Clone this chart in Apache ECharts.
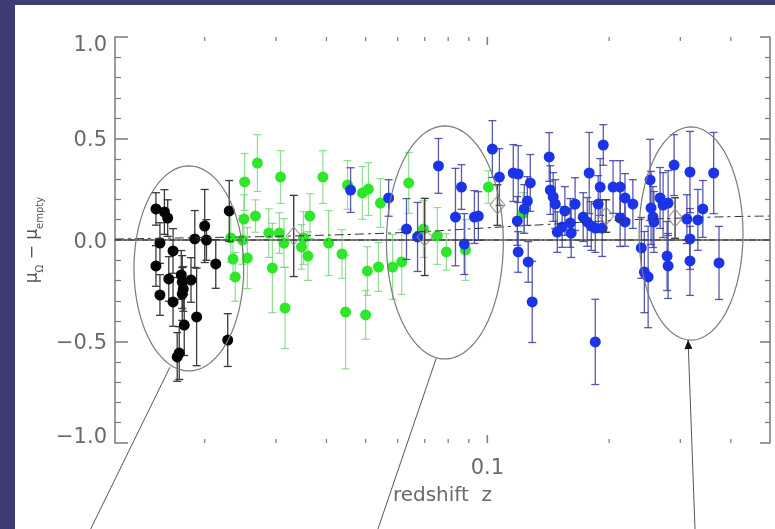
<!DOCTYPE html>
<html><head><meta charset="utf-8">
<script src="https://cdn.jsdelivr.net/npm/echarts@6/dist/echarts.min.js"></script>
<style>
html,body{margin:0;padding:0;background:#3b3d74;width:775px;height:529px;overflow:hidden}
#c{position:absolute;left:15px;top:5px;width:760px;height:524px;background:#fff}
</style></head><body><div id="c"></div>
<script>
// [redshift z, mu - mu_empty, error]
const blackData = [
[0.01515,0.153,0.08],[0.0159,0.138,0.11],[0.0162,0.108,0.09],[0.0155,-0.015,0.10],[0.0167,-0.054,0.11],
[0.0200,0.069,0.18],[0.0189,0.005,0.14],[0.0202,0.0,0.10],[0.0213,-0.118,0.12],[0.01515,-0.128,0.10],
[0.0163,-0.192,0.11],[0.0176,-0.207,0.13],[0.0185,-0.197,0.11],[0.0155,-0.271,0.10],[0.0167,-0.305,0.12],
[0.0177,-0.241,0.11],[0.0191,-0.379,0.24],[0.0178,-0.419,0.15],[0.0173,-0.557,0.13],[0.0171,-0.576,0.12],
[0.0228,-0.493,0.13],[0.0230,0.143,0.15],[0.0175,-0.172,0.12],[0.0176,-0.266,0.13]
];
const greenData = [
[0.0270,0.379,0.14],[0.0251,0.286,0.14],[0.0308,0.310,0.13],[0.0392,0.310,0.13],[0.0451,0.271,0.12],
[0.0267,0.118,0.08],[0.0250,0.103,0.12],[0.0364,0.118,0.11],[0.0232,0.010,0.12],[0.0248,0.0,0.12],
[0.0288,0.034,0.12],[0.0306,0.034,0.10],[0.0314,-0.015,0.12],[0.0351,0.010,0.13],[0.0347,-0.034,0.11],
[0.0360,-0.079,0.12],[0.0405,-0.015,0.16],[0.0437,-0.069,0.12],[0.0235,-0.094,0.10],[0.0255,-0.089,0.15],
[0.0238,-0.182,0.12],[0.0294,-0.138,0.22],[0.0316,-0.335,0.20],[0.0446,-0.355,0.28],[0.0491,0.232,0.13],
[0.0508,0.251,0.13],[0.0544,0.182,0.12],[0.0639,0.281,0.15],[0.0505,-0.153,0.12],[0.0538,-0.133,0.12],
[0.0583,-0.133,0.16],[0.0614,-0.108,0.16],[0.0500,-0.369,0.12],[0.0695,0.054,0.14],[0.0752,0.020,0.14],
[0.0792,-0.059,0.09],[0.0883,-0.049,0.15],[0.1006,0.261,0.08],[0.1227,0.133,0.10]
];
const blueData = [
[0.0459,0.246,0.11],[0.0570,0.207,0.09],[0.0757,0.365,0.135],[0.0863,0.261,0.11],[0.0631,0.054,0.15],
[0.0672,0.015,0.17],[0.0834,0.113,0.24],[0.0877,-0.020,0.15],[0.0929,0.113,0.13],[0.0950,0.118,0.12],
[0.1029,0.448,0.14],[0.1071,0.310,0.14],[0.1159,0.330,0.14],[0.1192,0.325,0.14],[0.1277,0.281,0.14],
[0.1256,0.192,0.12],[0.1234,0.153,0.12],[0.1186,0.094,0.12],[0.1192,-0.059,0.10],[0.1262,-0.108,0.10],
[0.1291,-0.305,0.20],[0.1422,0.409,0.12],[0.1431,0.246,0.12],[0.1455,0.212,0.12],[0.1472,0.177,0.12],
[0.1555,0.143,0.12],[0.1648,0.177,0.13],[0.1489,0.039,0.10],[0.1531,0.064,0.10],[0.1603,0.084,0.12],
[0.1612,0.034,0.12],[0.1726,0.113,0.12],[0.1786,0.330,0.20],[0.1935,0.468,0.10],[0.1901,0.261,0.14],
[0.1880,0.177,0.14],[0.1807,0.069,0.12],[0.1849,0.059,0.12],[0.1923,0.059,0.14],[0.1766,0.089,0.12],
[0.1849,-0.502,0.21],[0.2046,0.261,0.13],[0.2130,0.261,0.13],[0.2190,0.207,0.12],[0.2130,0.108,0.14],
[0.2190,0.089,0.12],[0.2290,0.177,0.12],[0.2403,-0.039,0.15],[0.2445,-0.158,0.20],[0.2498,-0.182,0.25],
[0.2526,0.296,0.20],[0.2540,0.158,0.18],[0.2568,0.113,0.15],[0.2582,0.089,0.15],[0.2674,0.207,0.15],
[0.2720,0.172,0.16],[0.2799,0.182,0.16],[0.2783,-0.079,0.17],[0.2799,-0.128,0.16],[0.2896,0.369,0.15],
[0.3170,0.335,0.20],[0.3115,0.103,0.12],[0.3170,0.005,0.15],[0.3170,-0.103,0.17],[0.3316,0.099,0.15],
[0.3411,0.153,0.14],[0.3628,0.330,0.20],[0.3740,-0.113,0.18]
];
// binned averages (hollow diamonds)
const binData = [[0.0332,0.020,0.20],[0.0700,0.015,0.19],[0.1059,0.172,0.10],[0.1967,0.118,0.08],[0.2912,0.108,0.10]];
// model curves
const modelZ = [0.012,0.02,0.03,0.05,0.07,0.1,0.15,0.2,0.3,0.4,0.5];
const modelLambdaY = [0.005,0.012,0.018,0.03,0.042,0.06,0.08,0.095,0.108,0.115,0.118];
const zeroZ = [0.012,0.5];
const zeroY = [0,0];
// ellipses: [zLeft, zRight, yTop, yBottom]
const ellipses = [[0.01337,0.02497,0.365,-0.645],[0.0563,0.1095,0.562,-0.586],[0.2373,0.4287,0.557,-0.493]];
// arrows: [zFrom, yFrom, zTo, yTo, head]
const arrows = [[0.01041,-1.43,0.01641,-0.626,0],[0.0535,-1.43,0.0748,-0.581,0],[0.3263,-1.43,0.3136,-0.4926,1]];
// x ticks: [z, major?]
const xTicks = [[0.02,0],[0.03,0],[0.04,0],[0.05,0],[0.06,0],[0.07,0],[0.08,0],[0.09,0],[0.1,1],[0.2,0],[0.3,0],[0.4,0]];
const xMin = 0.012, xMax = 0.5, yMin = -1, yMax = 1;

const FONT = 'DejaVu Sans';
const AX = '#7a7a7a';
const LBL = '#6a6a6a';

function errSeries(data, color, lw, z){
  return {type:'custom', coordinateSystem:'cartesian2d', z:z, clip:false, silent:true,
    encode:{x:0,y:1}, data:data,
    renderItem:function(p, api){
      const x=api.value(0), y=api.value(1), e=api.value(2);
      const t=api.coord([x,y+e]), b=api.coord([x,y-e]); const c=4;
      const st={stroke:color,lineWidth:lw};
      return {type:'group',children:[
        {type:'line',shape:{x1:t[0],y1:t[1],x2:b[0],y2:b[1]},style:st},
        {type:'line',shape:{x1:t[0]-c,y1:t[1],x2:t[0]+c,y2:t[1]},style:st},
        {type:'line',shape:{x1:b[0]-c,y1:b[1],x2:b[0]+c,y2:b[1]},style:st}
      ]};
    }};
}
function ptSeries(data, color, z){
  return {type:'scatter', z:z, silent:true, symbolSize:11, data:data.map(d=>[d[0],d[1]]),
    itemStyle:{color:color, opacity:1}};
}

const chart = echarts.init(document.getElementById('c'), null, {renderer:'canvas'});
chart.setOption({
  animation:false,
  backgroundColor:'#ffffff',
  grid:{left:100, top:32, width:655, height:406},
  xAxis:[
    {type:'log', logBase:10, min:xMin, max:xMax, position:'bottom',
     name:'redshift  z', nameLocation:'middle', nameGap:43,
     nameTextStyle:{fontFamily:FONT, fontSize:20, color:LBL},
     axisLine:{show:true, lineStyle:{color:AX, width:1.5}},
     axisTick:{show:false}, minorTick:{show:false}, splitLine:{show:false}, minorSplitLine:{show:false},
     axisLabel:{show:true, margin:15, fontFamily:FONT, fontSize:21, color:LBL,
       formatter:function(v){return Math.abs(v-0.1)<1e-6?'0.1':'';}}},
    {type:'log', logBase:10, min:xMin, max:xMax, position:'top',
     axisLine:{show:true, lineStyle:{color:AX, width:1.5}},
     axisTick:{show:false}, axisLabel:{show:false}, splitLine:{show:false}}
  ],
  yAxis:[
    {type:'value', min:yMin, max:yMax, interval:0.5, position:'left',
     name:'{m|μ}{s|Ω}{m| − μ}{s|empty}', nameLocation:'middle', nameGap:70, nameRotate:90,
     nameTextStyle:{color:'#555', fontFamily:FONT,
       rich:{m:{fontSize:17, fontFamily:FONT, color:'#555', lineHeight:24, verticalAlign:'middle'},
             s:{fontSize:10, fontFamily:FONT, color:'#555', lineHeight:24, verticalAlign:'bottom'}}},
     axisLine:{show:true, lineStyle:{color:AX, width:1.5}},
     axisTick:{show:true, inside:true, length:13, lineStyle:{color:AX, width:1.5}},
     minorTick:{show:true, splitNumber:5, length:6, lineStyle:{color:AX, width:1.2}},
     splitLine:{show:false},
     axisLabel:{margin:8, fontFamily:FONT, fontSize:21, color:LBL,
       rich:{hi:{fontFamily:FONT, fontSize:21, color:LBL, padding:[17,0,0,0]},
             lo:{fontFamily:FONT, fontSize:21, color:LBL, padding:[0,0,10,0]},
             md:{fontFamily:FONT, fontSize:21, color:LBL, padding:[5,0,0,0]}},
       formatter:function(v){
         const s=(v<0?'−':'')+Math.abs(v).toFixed(1);
         if(v>=0.999) return '{hi|'+s+'}';
         if(v<=-0.999) return '{lo|'+s+'}';
         return '{md|'+s+'}';
       }}},
    {type:'value', min:yMin, max:yMax, interval:0.5, position:'right',
     axisLine:{show:true, lineStyle:{color:AX, width:1.5}},
     axisTick:{show:true, inside:true, length:10, lineStyle:{color:AX, width:1.5}},
     minorTick:{show:true, splitNumber:5, length:5, lineStyle:{color:AX, width:1.2}},
     splitLine:{show:false}, axisLabel:{show:false}}
  ],
  series:[
    {type:'custom', z:10, silent:true, clip:false, encode:{x:0}, data:xTicks,
     renderItem:function(p, api){
       const z=api.value(0), big=api.value(1); const L=big?8:4;
       const b=api.coord([z,yMin]), t=api.coord([z,yMax]);
       const st={stroke:AX,lineWidth:big?1.5:1.2};
       return {type:'group',children:[
         {type:'line',shape:{x1:b[0],y1:b[1],x2:b[0],y2:b[1]-L},style:st},
         {type:'line',shape:{x1:t[0],y1:t[1],x2:t[0],y2:t[1]+L},style:st}]};
     }},
    errSeries(greenData, 'rgba(110,210,110,0.75)', 1.2, 3),
    ptSeries(greenData, '#2ee62a', 4),
    errSeries(blackData, '#3a3a3a', 1.3, 5),
    ptSeries(blackData, '#050505', 6),
    errSeries(blueData, 'rgba(60,60,160,0.85)', 1.3, 7),
    ptSeries(blueData, '#1c34e8', 8),
    errSeries(binData, '#404040', 1.4, 9),
    {type:'scatter', z:9, silent:true, symbol:'diamond', symbolSize:[15,18],
     data:binData.map(d=>[d[0],d[1]]),
     itemStyle:{color:'rgba(255,255,255,0)', borderColor:'#8a8a8a', borderWidth:1.2}},
    {type:'line', z:11, silent:true, symbol:'none', smooth:true,
     data:modelZ.map((z,i)=>[z,modelLambdaY[i]]),
     lineStyle:{color:'#333', width:1, type:[9,4,3,4]}},
    {type:'line', z:11, silent:true, symbol:'none',
     data:zeroZ.map((z,i)=>[z,zeroY[i]]),
     lineStyle:{color:'#333', width:1, type:[6,3,1.5,3]}},
    {type:'custom', z:12, silent:true, clip:false, encode:{x:[0,1], y:[2,3]}, data:ellipses,
     renderItem:function(p, api){
       const a=api.coord([api.value(0),api.value(2)]), b=api.coord([api.value(1),api.value(3)]);
       const cx=(a[0]+b[0])/2, cy=(a[1]+b[1])/2, rx=Math.abs(b[0]-a[0])/2, ry=Math.abs(b[1]-a[1])/2;
       const pts=[]; for(let i=0;i<120;i++){const t=i/120*2*Math.PI; pts.push([cx+rx*Math.cos(t), cy+ry*Math.sin(t)]);}
       return {type:'polygon', shape:{points:pts}, style:{fill:null, stroke:'#7a7a7a', lineWidth:1.2}};
     }},
    {type:'custom', z:12, silent:true, clip:false, encode:{x:[0,2], y:[1,3]}, data:arrows,
     renderItem:function(p, api){
       const f=api.coord([api.value(0),api.value(1)]), t=api.coord([api.value(2),api.value(3)]);
       const ch=[{type:'line',shape:{x1:f[0],y1:f[1],x2:t[0],y2:t[1]},style:{stroke:'#555',lineWidth:1}}];
       if(api.value(4)){
         const dx=t[0]-f[0], dy=t[1]-f[1], L=Math.hypot(dx,dy), ux=dx/L, uy=dy/L;
         const h=9, w=4;
         ch.push({type:'polygon',shape:{points:[[t[0],t[1]],[t[0]-ux*h-uy*w,t[1]-uy*h+ux*w],[t[0]-ux*h+uy*w,t[1]-uy*h-ux*w]]},style:{fill:'#111'}});
       }
       return {type:'group',children:ch};
     }}
  ]
});
</script></body></html>
